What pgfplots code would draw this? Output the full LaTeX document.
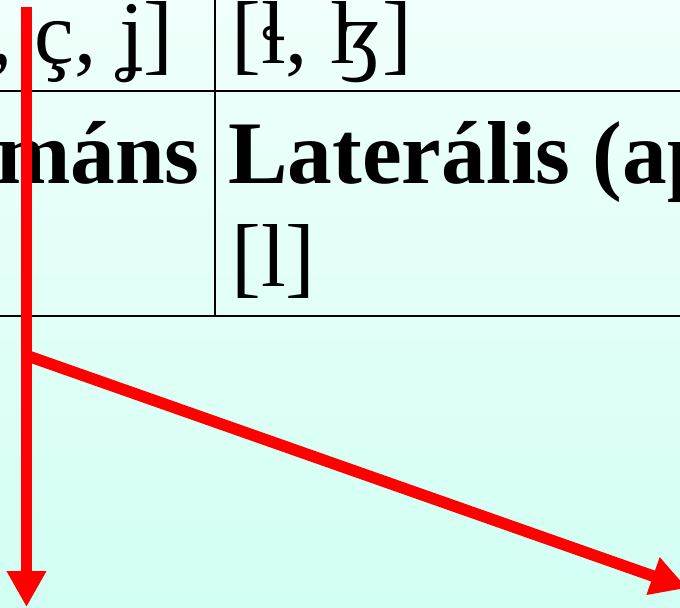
\documentclass[border=0pt]{standalone}
\usepackage{fontspec}
\setmainfont{Liberation Serif}
\usepackage{pgfplots}
\pgfplotsset{compat=1.18}
\usetikzlibrary{arrows.meta}

\definecolor{bgtop}{HTML}{F0FFFB}
\definecolor{bgbot}{HTML}{D2FFF3}

% 1 px of the reference = 0.75pt
\pgfmathsetlengthmacro{\W}{680*0.75pt}
\pgfmathsetlengthmacro{\H}{607*0.75pt}

\begin{document}
\begin{tikzpicture}
\clip (0,0) rectangle (\W,\H);
\shade[top color=bgtop, bottom color=bgbot] (0,0) rectangle (\W,\H);
\begin{axis}[
    at={(0,0)}, anchor=south west,
    scale only axis, width=\W, height=\H,
    xmin=0, xmax=680, ymin=0, ymax=607,
    y dir=reverse,
    hide axis, clip=false,
]
% table rules
\addplot[black, line width=1.6pt] coordinates {(-10,91) (690,91)};
\addplot[black, line width=1.6pt] coordinates {(-10,316) (690,316)};
\addplot[black, line width=1.6pt] coordinates {(215,-10) (215,317)};

% cell texts
\node[anchor=base east, inner sep=0pt, font=\fontsize{67}{80}\selectfont]
  at (axis cs:174,63) {[c, ɟ, ç, ʝ]};
\node[anchor=base west, inner sep=0pt, font=\fontsize{67}{80}\selectfont]
  at (axis cs:231,63) {[ɬ, ɮ]};
\node[anchor=base east, inner sep=0pt, font=\fontsize{67}{80}\selectfont\bfseries]
  at (axis cs:200,183) {Approximáns};
\node[anchor=base west, inner sep=0pt, font=\fontsize{67}{80}\selectfont\bfseries]
  at (axis cs:228,183) {Laterális (approximáns)};
\node[anchor=base west, inner sep=0pt, font=\fontsize{67}{80}\selectfont]
  at (axis cs:231,286) {[l]};

% red arrows
\addplot[red, line width=8.6pt, -{Triangle[width=28pt, length=27pt]}]
  coordinates {(26.5,7) (26.5,607)};
\addplot[red, line width=8.6pt, -{Triangle[width=28pt, length=27pt]}]
  coordinates {(26.5,355.5) (687,588)};
\end{axis}
\end{tikzpicture}
\end{document}
